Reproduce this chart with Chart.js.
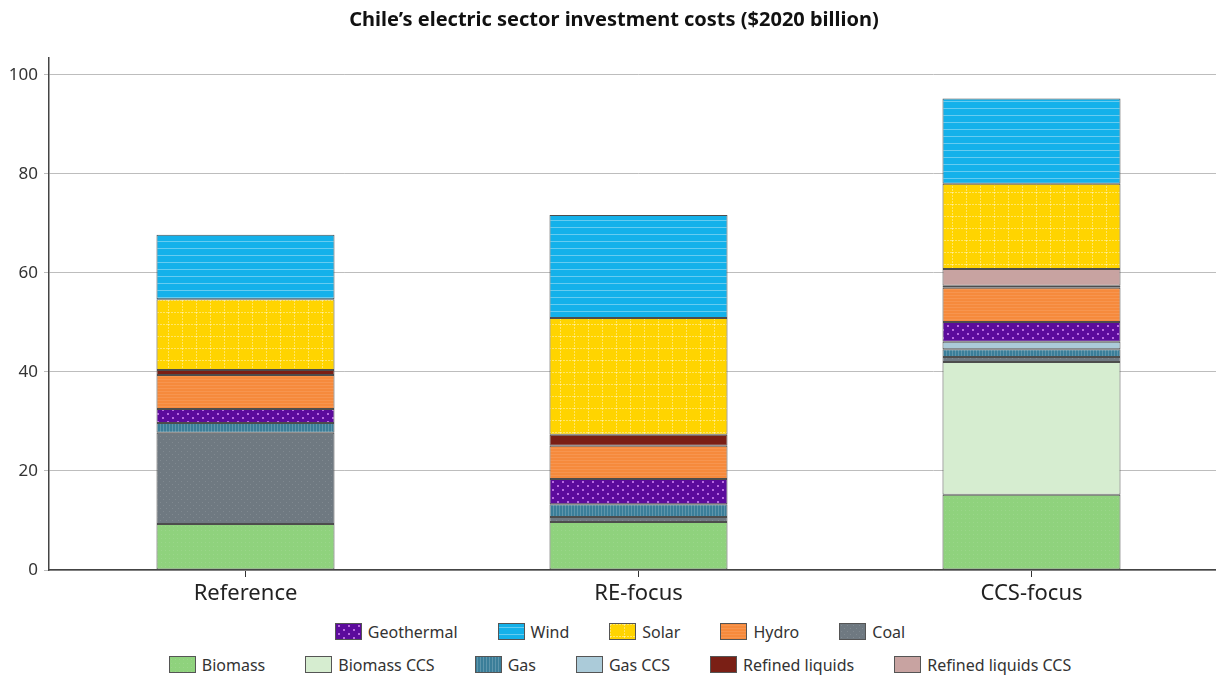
<!DOCTYPE html>
<html>
<head>
<meta charset="utf-8">
<script src="https://cdn.jsdelivr.net/npm/chart.js@4"></script>
<style>
	html, body { margin: 0; background: #fff; font-family: "Noto Sans", sans-serif; overflow: hidden; }
	#wrap { position: relative; width: 1228px; height: 615px; }
	#legenda { width: 1216px; color: #333; font-size: 16px; }
	.linha { display: flex; justify-content: center; align-items: center; height: 33px; padding-left: 24px; box-sizing: border-box; }
	.item { display: flex; align-items: center; margin: 0 20px; }
	.caixa { width: 25px; height: 15px; border: 1px solid #555; margin-right: 6px; }
</style>
</head>
<body>
<div id="wrap"><canvas id="investimento"></canvas></div>
<div id="legenda"></div>
<script>
	const categorias = ["Reference", "RE-focus", "CCS-focus"];
	const ticksY = [0, 20, 40, 60, 80, 100];

	const biomass = [9.3, 9.7, 15.2];
	const biomassCcs = [0, 0, 26.8];
	const coal = [18.4, 1.0, 1.0];
	const gas = [2.0, 2.6, 1.6];
	const gasCcs = [0, 0, 1.5];
	const geothermal = [2.8, 5.1, 4.0];
	const hydro = [6.9, 6.7, 6.9];
	const refinedLiquids = [1.0, 2.2, 0.4];
	const refinedLiquidsCcs = [0, 0, 3.4];
	const solar = [14.3, 23.6, 17.2];
	const wind = [13.0, 20.8, 17.2];

	const linhasLegenda = [
		["Geothermal", "Wind", "Solar", "Hydro", "Coal"],
		["Biomass", "Biomass CCS", "Gas", "Gas CCS", "Refined liquids", "Refined liquids CCS"]
	];

	// tile pequeno com a textura de cada fonte
	const textura = (w, h, fundo, desenha) => {
		const c = document.createElement("canvas");
		c.width = w;
		c.height = h;
		const ctx = c.getContext("2d");
		ctx.fillStyle = fundo;
		ctx.fillRect(0, 0, w, h);
		if (desenha) desenha(ctx);
		return c;
	}

	const texturas = {
		"Wind": textura(8, 7, "#14b1ea", ctx => {
			ctx.fillStyle = "rgba(255,255,255,0.35)";
			ctx.fillRect(0, 3, 8, 1);
		}),
		"Solar": textura(14, 12, "#ffd400", ctx => {
			ctx.fillStyle = "rgba(255,255,255,0.4)";
			for (let y = 0; y < 12; y += 3) ctx.fillRect(0, y, 1, 2);
			for (let x = 0; x < 14; x += 3) ctx.fillRect(x, 0, 2, 1);
		}),
		"Hydro": textura(6, 3, "#f68a3c", ctx => {
			ctx.fillStyle = "rgba(255,255,255,0.1)";
			ctx.fillRect(0, 1, 6, 1);
		}),
		"Geothermal": textura(10, 8, "#5c0b9c", ctx => {
			ctx.fillStyle = "#b86ae0";
			ctx.fillRect(2, 1, 2, 2);
			ctx.fillRect(7, 5, 2, 2);
		}),
		"Gas": textura(3, 4, "#3b7e99", ctx => {
			ctx.fillStyle = "rgba(255,255,255,0.18)";
			ctx.fillRect(1, 0, 1, 4);
		}),
		"Coal": textura(6, 6, "#6f7981", ctx => {
			ctx.fillStyle = "rgba(255,255,255,0.12)";
			ctx.fillRect(1, 1, 1, 1);
			ctx.fillRect(4, 4, 1, 1);
		}),
		"Biomass": textura(4, 4, "#8fd27d", ctx => {
			ctx.fillStyle = "rgba(255,255,255,0.1)";
			ctx.fillRect(1, 2, 1, 1);
		}),
		"Biomass CCS": textura(4, 4, "#d6edd0"),
		"Gas CCS": textura(4, 4, "#abcbd9"),
		"Refined liquids": textura(4, 4, "#7a1f15"),
		"Refined liquids CCS": textura(4, 4, "#c8a3a1")
	};

	const series = [
		["Biomass", biomass],
		["Biomass CCS", biomassCcs],
		["Coal", coal],
		["Gas", gas],
		["Gas CCS", gasCcs],
		["Geothermal", geothermal],
		["Hydro", hydro],
		["Refined liquids", refinedLiquids],
		["Refined liquids CCS", refinedLiquidsCcs],
		["Solar", solar],
		["Wind", wind]
	];

	const ctxPrincipal = document.getElementById("investimento").getContext("2d");

	const datasets = series.map(([nome, valores]) => ({
		label: nome,
		data: valores,
		backgroundColor: ctxPrincipal.createPattern(texturas[nome], "repeat"),
		borderColor: "#4d4d4d",
		borderWidth: 1,
		borderSkipped: false,
		barPercentage: 0.453,
		categoryPercentage: 1
	}));

	Chart.defaults.font.family = '"Noto Sans", sans-serif';
	Chart.defaults.color = "#333";

	new Chart(ctxPrincipal, {
		type: "bar",
		data: {
			labels: categorias,
			datasets: datasets
		},
		options: {
			responsive: true,
			maintainAspectRatio: false,
			animation: false,
			layout: { padding: 0 },
			plugins: {
				legend: { display: false },
				tooltip: { enabled: false },
				title: {
					display: true,
					text: "Chile\u2019s electric sector investment costs ($2020 billion)",
					font: { size: 20, weight: "bold" },
					color: "#111",
					padding: { top: 8, bottom: 26 }
				}
			},
			scales: {
				x: {
					stacked: true,
					grid: {
						display: true,
						drawOnChartArea: false,
						offset: false,
						tickLength: 7,
						color: "#333"
					},
					border: { color: "#444", width: 1.5 },
					ticks: { font: { size: 22 }, color: "#222", padding: 4 },
					afterFit: (scale) => { scale.height = 45; }
				},
				y: {
					stacked: true,
					min: 0,
					max: 103.4,
					grid: { color: "#bdbdbd", tickLength: 5, lineWidth: 1 },
					border: { color: "#444", width: 1.5 },
					ticks: { font: { size: 17 }, color: "#333", padding: 6 },
					afterBuildTicks: (scale) => {
						scale.ticks = ticksY.map(v => ({ value: v }));
					},
					afterFit: (scale) => { scale.width = 49; }
				}
			}
		}
	});

	// legenda em duas linhas, como no original
	const legenda = document.getElementById("legenda");
	linhasLegenda.forEach(nomes => {
		const linha = document.createElement("div");
		linha.className = "linha";
		nomes.forEach(nome => {
			const item = document.createElement("div");
			item.className = "item";
			const caixa = document.createElement("span");
			caixa.className = "caixa";
			caixa.style.backgroundImage = "url(" + texturas[nome].toDataURL() + ")";
			const texto = document.createElement("span");
			texto.textContent = nome;
			item.appendChild(caixa);
			item.appendChild(texto);
			linha.appendChild(item);
		});
		legenda.appendChild(linha);
	});
</script>
</body>
</html>
